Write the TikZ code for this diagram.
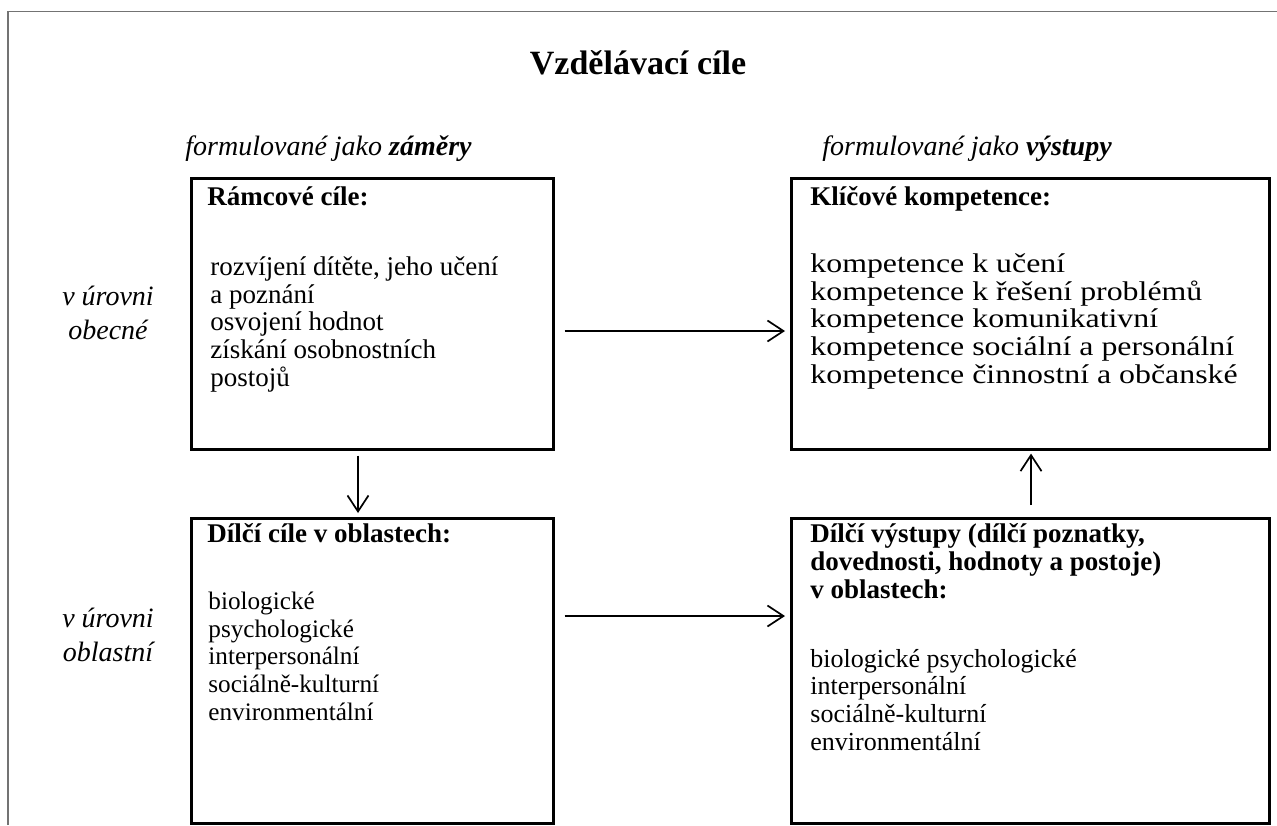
\documentclass[tikz,border=0pt]{standalone}
\usepackage{fontspec}
\setmainfont{Liberation Serif}
\newfontfamily\widefont[FakeStretch=1.18]{Liberation Serif}
\usetikzlibrary{arrows.meta}
\begin{document}
\begin{tikzpicture}[x=0.5pt,y=-0.5pt,
  boxst/.style={draw, line width=1.3pt, inner sep=0pt, anchor=north west},
  body/.style={anchor=base west, align=left, inner sep=0pt, font=\fontsize{13.5}{13.8}\selectfont},
  head/.style={anchor=base west, align=left, inner sep=0pt, font=\fontsize{13.5}{13.8}\selectfont\bfseries},
  lab/.style={anchor=base, align=center, inner sep=0pt, font=\fontsize{14}{17}\selectfont\itshape},
  toplab/.style={anchor=base west, inner sep=0pt, font=\fontsize{14}{17}\selectfont\itshape},
  arr/.style={line width=0.85pt, -{Straight Barb[length=8pt,width=10.5pt,line width=0.85pt]}}
]
\useasboundingbox (0,0) rectangle (1277,825);
\draw[line width=0.75pt, color=black!55] (8,825) -- (8,11.7) -- (1277,11.7);

\node[anchor=base, inner sep=0pt, font=\fontsize{17}{20}\selectfont\bfseries] (title) at (638,74) {Vzdělávací cíle};

\node[toplab] (lzam) at (185,155) {formulované jako \textbf{záměry}};
\node[toplab] (lvys) at (822,155) {formulované jako \textbf{výstupy}};

\node[lab] (lobe) at (108,339) {v úrovni\\obecné};
\node[lab] (lobl) at (108,661) {v úrovni\\oblastní};

\node[boxst, minimum width=181pt, minimum height=135.5pt] (r) at (190,177) {};
\node[boxst, minimum width=181pt, minimum height=152.5pt] (d) at (190,517) {};
\node[boxst, minimum width=239pt, minimum height=135.5pt] (k) at (790,177) {};
\node[boxst, minimum width=239pt, minimum height=152.5pt] (v) at (790,517) {};

\node[head] (rh) at (207,205) {Rámcové cíle:};
\node[body] (rb) at (210,386) {rozvíjení dítěte, jeho učení\\a poznání\\osvojení hodnot\\získání osobnostních\\postojů};

\node[head] (kh) at (810,205) {Klíčové kompetence:};
\node[body, font=\fontsize{13.5}{13.8}\widefont] (kb) at (810,383) {kompetence k učení\\kompetence k řešení problémů\\kompetence komunikativní\\kompetence sociální a personální\\kompetence činnostní a občanské};

\node[head] (dh) at (207,542) {Dílčí cíle v oblastech:};
\node[body, font=\fontsize{12.6}{13.8}\selectfont] (db) at (208,720) {biologické\\psychologické\\interpersonální\\sociálně-kulturní\\environmentální};

\node[head] (vh) at (810,598) {Dílčí výstupy (dílčí poznatky,\\dovednosti, hodnoty a postoje)\\v oblastech:};
\node[body, font=\fontsize{13}{13.8}\selectfont] (vb) at (810,750) {biologické psychologické\\interpersonální\\sociálně-kulturní\\environmentální};

\draw[arr, shorten <=5pt, shorten >=2.5pt] (r.east |- 0,331) -- (k.west |- 0,331);
\draw[arr, shorten <=5pt, shorten >=2.5pt] (d.east |- 0,616) -- (v.west |- 0,616);
\draw[arr, shorten <=2.5pt, shorten >=2pt] (r.south -| 358,0) -- (d.north -| 358,0);
\draw[arr, shorten <=6pt, shorten >=1.5pt] (v.north -| 1031,0) -- (k.south -| 1031,0);
\end{tikzpicture}
\end{document}
